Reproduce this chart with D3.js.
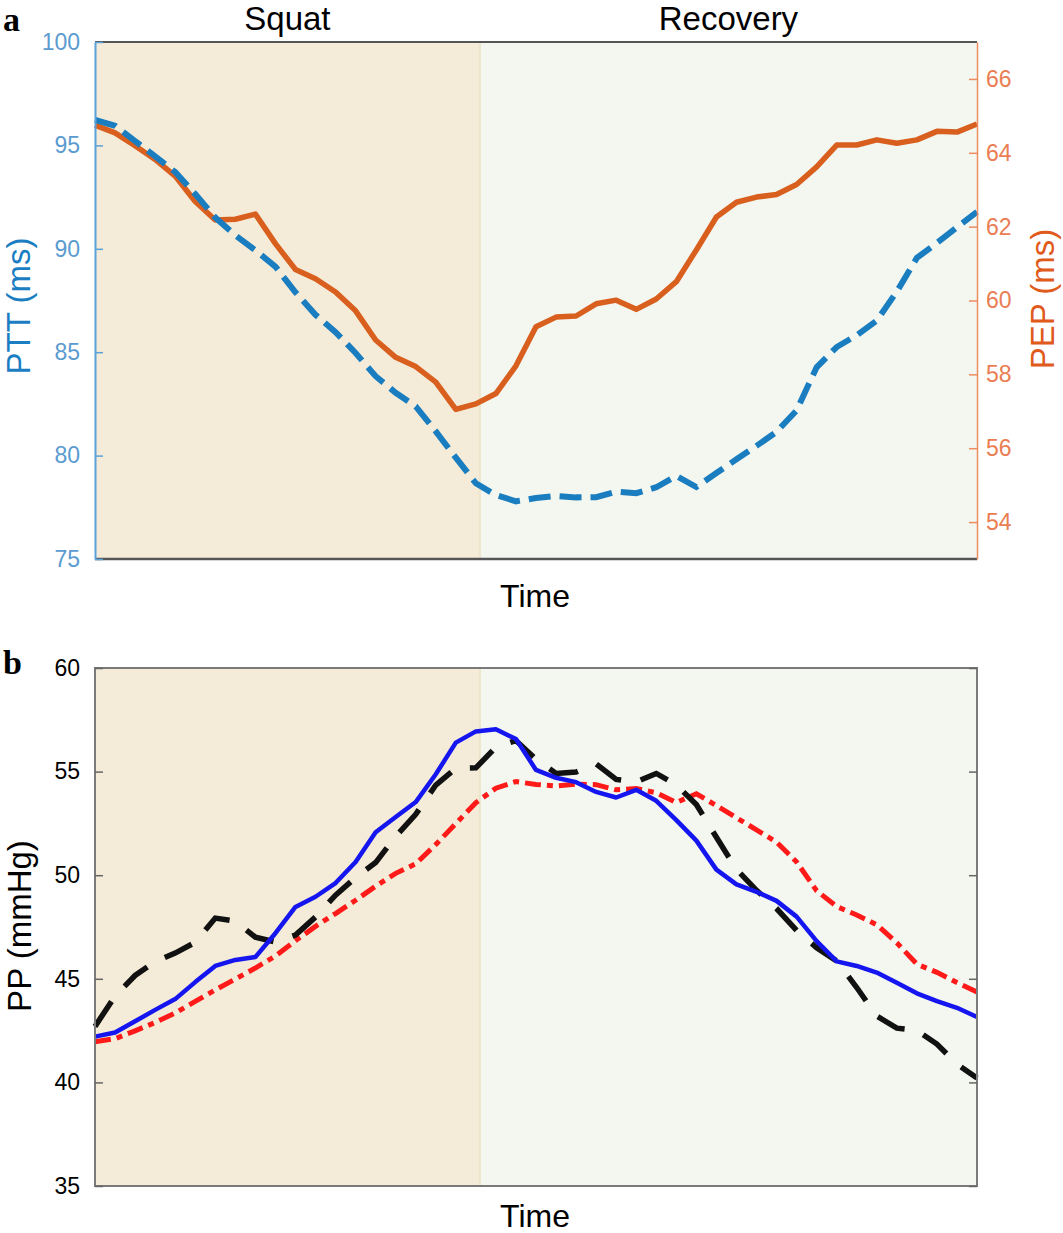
<!DOCTYPE html>
<html><head><meta charset="utf-8">
<script src="https://cdn.jsdelivr.net/npm/d3@7"></script>
<style>
body{margin:0;background:#fff;}
svg{display:block;}
text{font-family:"Liberation Sans",Arial,sans-serif;}
</style>
</head><body>
<svg id="c" width="1063" height="1233"></svg>
<script>
// ---- data ----
const timeSteps = [0,1,2,3,4,5,6,7,8,9,10,11,12,13,14,15,16,17,18,19,20,21,22,23,24,25,26,27,28,29,30,31,32,33,34,35,36,37,38,39,40,41,42,43,44];
const phaseBoundary = 19.2;
const phaseLabels = ["Squat", "Recovery"];

const pttValues = [96.23,95.95,95.21,94.47,93.71,92.65,91.51,90.65,89.93,89.14,87.90,86.81,85.97,84.96,83.84,83.04,82.38,81.17,79.90,78.66,78.09,77.79,77.95,78.05,77.98,77.99,78.26,78.18,78.47,79.02,78.48,79.16,79.82,80.47,81.15,82.18,84.27,85.25,85.82,86.53,87.93,89.56,90.28,91.04,91.78];
const pepValues = [64.75,64.54,64.19,63.82,63.37,62.68,62.18,62.20,62.34,61.54,60.84,60.59,60.23,59.72,58.93,58.46,58.21,57.79,57.05,57.20,57.48,58.23,59.29,59.55,59.58,59.91,60.01,59.76,60.04,60.51,61.37,62.26,62.66,62.80,62.87,63.14,63.62,64.21,64.21,64.35,64.26,64.35,64.58,64.56,64.78];

const ppBlue  = [42.21,42.41,42.95,43.50,44.02,44.84,45.62,45.91,46.05,47.20,48.47,48.96,49.62,50.64,52.07,52.81,53.53,54.87,56.40,56.94,57.04,56.57,55.08,54.70,54.49,54.02,53.75,54.12,53.59,52.66,51.67,50.27,49.56,49.20,48.76,48.00,46.82,45.84,45.62,45.30,44.81,44.30,43.92,43.60,43.16];
const ppBlack = [42.70,44.17,45.16,45.83,46.24,46.76,47.93,47.78,47.01,46.78,47.11,47.98,49.04,49.89,50.61,51.87,52.94,54.35,55.16,55.18,56.18,56.50,55.60,54.91,54.98,55.37,54.62,54.50,54.91,54.36,53.41,51.83,50.28,49.27,48.39,47.34,46.50,45.86,44.58,43.20,42.62,42.51,41.85,40.88,40.21];
const ppRed   = [41.96,42.11,42.49,42.89,43.35,43.91,44.46,44.99,45.52,46.10,46.84,47.53,48.15,48.79,49.47,50.09,50.55,51.48,52.49,53.50,54.20,54.52,54.38,54.31,54.39,54.37,54.12,54.18,53.98,53.51,53.93,53.36,52.77,52.19,51.60,50.64,49.25,48.49,48.08,47.61,46.74,45.71,45.31,44.82,44.36];

const pttTicks = [75,80,85,90,95,100];
const pepTicks = [54,56,58,60,62,64,66];
const ppTicks  = [35,40,45,50,55,60];

// ---- layout ----
const svg = d3.select("#c");
const L = 95, R = 977;
const topA = 42, botA = 559;
const topB = 668, botB = 1186;

const x = d3.scaleLinear().domain([0, 44]).range([L, R]);
const yPTT = d3.scaleLinear().domain([75, 100]).range([botA, topA]);
const yPEP = d3.scaleLinear().domain([53, 67]).range([botA, topA]);
const yPP  = d3.scaleLinear().domain([35, 60]).range([botB, topB]);

const squatFill = "#f4ecd8", recFill = "#f3f7ef";

function backgrounds(t, b) {
  svg.append("rect").attr("x", x(0)).attr("y", t).attr("width", x(phaseBoundary) - x(0)).attr("height", b - t).attr("fill", squatFill);
  svg.append("rect").attr("x", x(phaseBoundary)).attr("y", t).attr("width", x(44) - x(phaseBoundary)).attr("height", b - t).attr("fill", recFill);
  svg.append("line").attr("x1", x(phaseBoundary)).attr("x2", x(phaseBoundary)).attr("y1", t).attr("y2", b)
    .attr("stroke", "#ece5cc").attr("stroke-width", 2);
}

const line = (ys) => d3.line().x((d, i) => x(timeSteps[i])).y(d => ys(d));

// ================= Panel a =================
backgrounds(topA, botA);

svg.append("path").datum(pepValues).attr("d", line(yPEP)).attr("fill", "none")
  .attr("stroke", "#d95f1f").attr("stroke-width", 5.5).attr("stroke-linejoin", "round");
svg.append("path").datum(pttValues).attr("d", line(yPTT)).attr("fill", "none")
  .attr("stroke", "#1a7dc0").attr("stroke-width", 6).attr("stroke-dasharray", "22,9");

svg.append("line").attr("x1", L).attr("x2", R).attr("y1", topA).attr("y2", topA).attr("stroke", "#555").attr("stroke-width", 2);
svg.append("line").attr("x1", L).attr("x2", R).attr("y1", botA).attr("y2", botA).attr("stroke", "#555").attr("stroke-width", 2.5);

const axL = svg.append("g").attr("transform", `translate(${L},0)`)
  .call(d3.axisLeft(yPTT).tickValues(pttTicks).tickSizeInner(-8).tickSizeOuter(0).tickPadding(15));
axL.select(".domain").attr("stroke", "#5aa2d8").attr("stroke-width", 2);
axL.selectAll(".tick line").attr("stroke", "#5aa2d8").attr("stroke-width", 1.5);
axL.selectAll("text").attr("fill", "#5b9bd0").attr("font-size", 23);

const axR = svg.append("g").attr("transform", `translate(${R},0)`)
  .call(d3.axisRight(yPEP).tickValues(pepTicks).tickSizeInner(-8).tickSizeOuter(0).tickPadding(9));
axR.select(".domain").attr("stroke", "#ee8c5f").attr("stroke-width", 1.5);
axR.selectAll(".tick line").attr("stroke", "#ee8c5f").attr("stroke-width", 1.5);
axR.selectAll("text").attr("fill", "#ea7d52").attr("font-size", 23);

svg.append("text").attr("transform", "translate(30,306) rotate(-90)").attr("text-anchor", "middle")
  .attr("font-size", 33).attr("fill", "#1b7ec2").text("PTT (ms)");
svg.append("text").attr("transform", "translate(1054,299) rotate(-90)").attr("text-anchor", "middle")
  .attr("font-size", 33).attr("fill", "#e05a1c").text("PEP (ms)");

svg.append("text").attr("x", 535).attr("y", 607).attr("text-anchor", "middle")
  .attr("font-size", 32).attr("fill", "#000").text("Time");

svg.append("text").attr("x", (x(0) + x(phaseBoundary)) / 2).attr("y", 30).attr("text-anchor", "middle")
  .attr("font-size", 33).attr("fill", "#000").text(phaseLabels[0]);
svg.append("text").attr("x", (x(phaseBoundary) + x(44)) / 2).attr("y", 30).attr("text-anchor", "middle")
  .attr("font-size", 33).attr("fill", "#000").text(phaseLabels[1]);

svg.append("text").attr("x", 3).attr("y", 30.5).style("font-family", "'Liberation Serif','Times New Roman',serif")
  .attr("font-weight", "bold").attr("font-size", 34).text("a");

// ================= Panel b =================
backgrounds(topB, botB);

svg.append("path").datum(ppRed).attr("d", line(yPP)).attr("fill", "none")
  .attr("stroke", "#ff1a1a").attr("stroke-width", 5).attr("stroke-dasharray", "16,6,6,6");
svg.append("path").datum(ppBlack).attr("d", line(yPP)).attr("fill", "none")
  .attr("stroke", "#111").attr("stroke-width", 5.5).attr("stroke-dasharray", "30,20");
svg.append("path").datum(ppBlue).attr("d", line(yPP)).attr("fill", "none")
  .attr("stroke", "#1515f0").attr("stroke-width", 4.5).attr("stroke-linejoin", "round");

svg.append("rect").attr("x", L).attr("y", topB).attr("width", R - L).attr("height", botB - topB)
  .attr("fill", "none").attr("stroke", "#7a7a7a").attr("stroke-width", 2);

const bL = svg.append("g").attr("transform", `translate(${L},0)`)
  .call(d3.axisLeft(yPP).tickValues(ppTicks).tickSizeInner(-8).tickSizeOuter(0).tickPadding(15));
bL.select(".domain").remove();
bL.selectAll(".tick line").attr("stroke", "#666").attr("stroke-width", 1.5);
bL.selectAll("text").attr("fill", "#000").attr("font-size", 23);

const bR = svg.append("g").attr("transform", `translate(${R},0)`)
  .call(d3.axisRight(yPP).tickValues(ppTicks).tickSizeInner(-8).tickSizeOuter(0).tickFormat(""));
bR.select(".domain").remove();
bR.selectAll(".tick line").attr("stroke", "#666").attr("stroke-width", 1.5);

svg.append("text").attr("transform", "translate(31,926) rotate(-90)").attr("text-anchor", "middle")
  .attr("font-size", 33).attr("fill", "#000").text("PP (mmHg)");
svg.append("text").attr("x", 535).attr("y", 1227).attr("text-anchor", "middle")
  .attr("font-size", 32).attr("fill", "#000").text("Time");

svg.append("text").attr("x", 3).attr("y", 674).style("font-family", "'Liberation Serif','Times New Roman',serif")
  .attr("font-weight", "bold").attr("font-size", 34).text("b");
</script>
</body></html>
